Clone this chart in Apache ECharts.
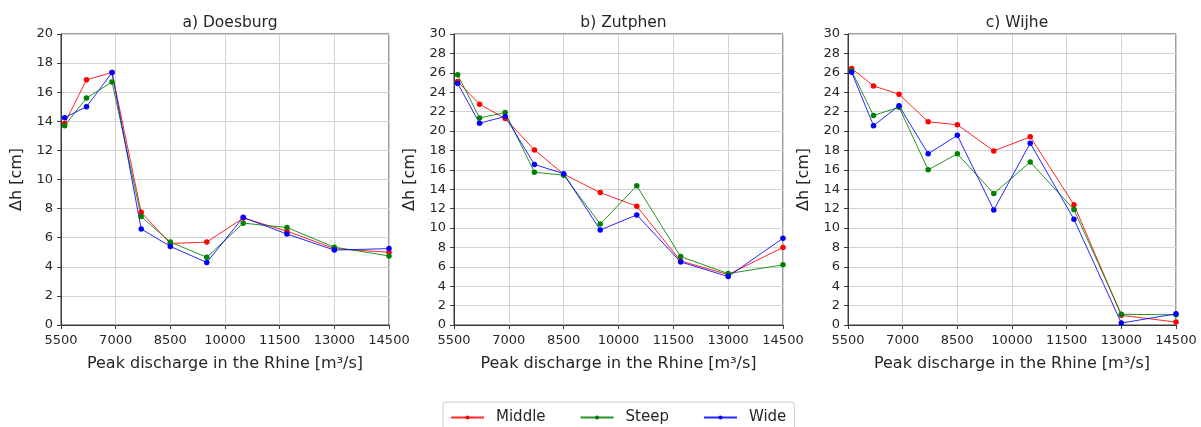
<!DOCTYPE html>
<html>
<head>
<meta charset="utf-8">
<script src="https://cdn.jsdelivr.net/npm/echarts@6/dist/echarts.min.js"></script>
<style>html,body{margin:0;padding:0;background:#fff;}#c{width:1201px;height:427px;}</style>
</head>
<body>
<div id="c"></div>
<script>
const discharge = [5600, 6200, 6900, 7700, 8500, 9500, 10500, 11700, 13000, 14500];
const seriesNames = ['Middle', 'Steep', 'Wide'];
const panelTitles = ['a) Doesburg', 'b) Zutphen', 'c) Wijhe'];
const yMax = [20, 30, 30];

const doesburgMiddle = [13.85, 16.85, 17.35, 7.75, 5.6, 5.7, 7.35, 6.45, 5.25, 5.0];
const doesburgSteep  = [13.7, 15.6, 16.7, 7.45, 5.7, 4.65, 7.0, 6.7, 5.35, 4.75];
const doesburgWide   = [14.25, 15.0, 17.35, 6.6, 5.4, 4.3, 7.4, 6.25, 5.15, 5.25];

const zutphenMiddle = [25.1, 22.75, 21.3, 18.05, 15.55, 13.65, 12.25, 6.6, 5.2, 8.0];
const zutphenSteep  = [25.8, 21.35, 21.9, 15.75, 15.45, 10.4, 14.35, 7.05, 5.3, 6.2];
const zutphenWide   = [24.9, 20.8, 21.5, 16.55, 15.6, 9.8, 11.35, 6.5, 5.0, 8.95];

const wijheMiddle = [26.45, 24.65, 23.8, 20.95, 20.65, 17.95, 19.4, 12.4, 1.0, 0.3];
const wijheSteep  = [26.2, 21.6, 22.45, 16.0, 17.65, 13.55, 16.8, 11.9, 1.1, 1.05];
const wijheWide   = [26.05, 20.55, 22.6, 17.65, 19.55, 11.85, 18.75, 10.9, 0.2, 1.15];

const panelData = [
  [doesburgMiddle, doesburgSteep, doesburgWide],
  [zutphenMiddle, zutphenSteep, zutphenWide],
  [wijheMiddle, wijheSteep, wijheWide]
];
const colors = ['#ff0000', '#008000', '#0000ff'];

const gridBoxes = [
  {left: 61, width: 328},
  {left: 454, width: 329},
  {left: 848, width: 328}
];
const FONT = 'DejaVu Sans';
const TXT = '#262626';

const grids = [], xAxes = [], yAxes = [], series = [], titles = [];
gridBoxes.forEach((g, i) => {
  grids.push({left: g.left, width: g.width, top: 34, height: 291, show: true, borderColor: '#3a3a3a', borderWidth: 1, backgroundColor: 'transparent'});
  titles.push({text: panelTitles[i], left: g.left + g.width / 2, top: 10, textAlign: 'center',
    textStyle: {fontFamily: FONT, fontSize: 15.5, fontWeight: 'normal', color: TXT}});
  xAxes.push({type: 'value', gridIndex: i, min: 5500, max: 14500, interval: 1500,
    name: 'Peak discharge in the Rhine [m³/s]', nameLocation: 'middle', nameGap: 31,
    nameTextStyle: {fontFamily: FONT, fontSize: 16, color: TXT},
    axisLine: {show: true, lineStyle: {color: '#3a3a3a', width: 1}},
    axisTick: {show: true, length: 4, lineStyle: {color: '#3a3a3a'}},
    axisLabel: {fontFamily: FONT, fontSize: 13, color: TXT, margin: 9, showMaxLabel: true, showMinLabel: true,
      formatter: v => String(v)},
    splitLine: {show: true, lineStyle: {color: '#d3d3d3', width: 1}}
  });
  yAxes.push({type: 'value', gridIndex: i, min: 0, max: yMax[i], interval: 2,
    name: 'Δh [cm]', nameLocation: 'middle', nameGap: 36, nameRotate: 90,
    nameTextStyle: {fontFamily: FONT, fontSize: 16, color: TXT},
    axisLine: {show: true, lineStyle: {color: '#3a3a3a', width: 1}},
    axisTick: {show: true, length: 4, lineStyle: {color: '#3a3a3a'}},
    axisLabel: {fontFamily: FONT, fontSize: 13, color: TXT, margin: 8},
    splitLine: {show: true, lineStyle: {color: '#d3d3d3', width: 1}}
  });
  seriesNames.forEach((name, k) => {
    series.push({
      name: name, type: 'line', xAxisIndex: i, yAxisIndex: i,
      data: discharge.map((x, j) => [x, panelData[i][k][j]]),
      symbol: 'circle', symbolSize: 5.5, showSymbol: true,
      itemStyle: {color: colors[k]},
      lineStyle: {color: colors[k], width: 1, opacity: 0.85},
      emphasis: {disabled: true}, animation: false
    });
  });
});

const chart = echarts.init(document.getElementById('c'));
chart.setOption({
  backgroundColor: '#fff',
  animation: false,
  title: titles,
  grid: grids,
  xAxis: xAxes,
  yAxis: yAxes,
  series: series,
  legend: {
    data: seriesNames, left: 443, top: 402,
    itemWidth: 33, itemHeight: 5, itemGap: 34,
    borderColor: '#cccccc', borderWidth: 1, borderRadius: 3,
    padding: [8, 8, 10, 7],
    textStyle: {fontFamily: FONT, fontSize: 15, color: TXT, padding: [0, 0, 0, 7]}
  }
});
</script>
</body>
</html>
